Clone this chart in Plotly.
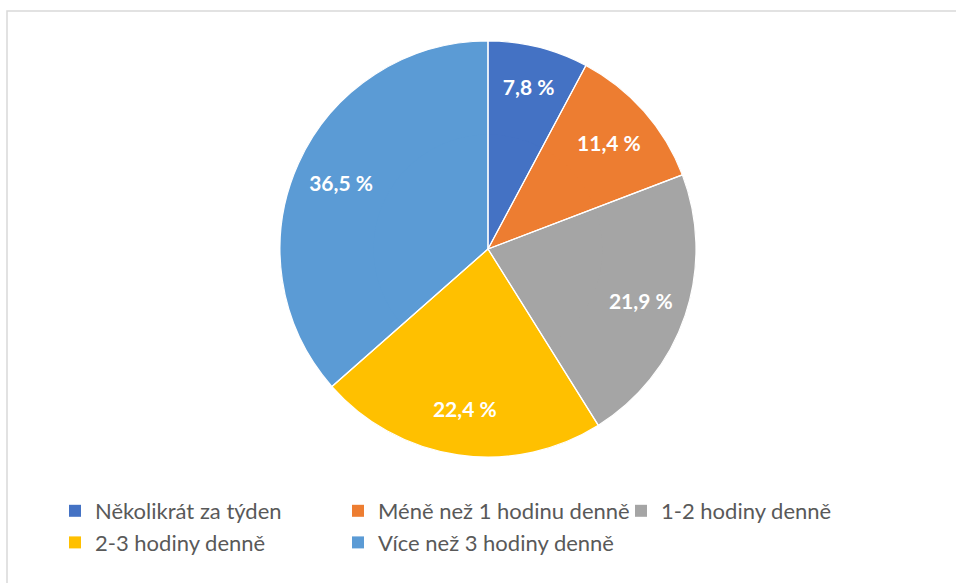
import plotly.graph_objects as go

labels = ["Několikrát za týden", "Méně než 1 hodinu denně", "1-2 hodiny denně",
          "2-3 hodiny denně", "Více než 3 hodiny denně"]
values = [7.8, 11.4, 21.9, 22.4, 36.5]
colors = ["#4472C4", "#ED7D31", "#A5A5A5", "#FFC000", "#5B9BD5"]

W, H = 956, 583
cx, cy, R = 488, 249, 208
dom = dict(x=[(cx - R) / W, (cx + R) / W], y=[1 - (cy + R) / H, 1 - (cy - R) / H])
common = dict(labels=labels, values=values, sort=False, direction="clockwise",
              rotation=0, domain=dom)

fig = go.Figure()
# full pie (colour fill, carries the legend)
fig.add_trace(go.Pie(
    **common,
    marker=dict(colors=colors, line=dict(width=0)),
    textposition="none",
    hoverinfo="label+value",
))
# ring on top that carries the data labels further out
fig.add_trace(go.Pie(
    **common,
    hole=0.55,
    marker=dict(colors=colors, line=dict(width=0)),
    texttemplate="%{value:.1f} %",
    textposition="inside",
    insidetextorientation="horizontal",
    textfont=dict(family="Lato", size=21, color="white", weight="bold"),
    showlegend=False,
    hoverinfo="skip",
))
# transparent pie for white slice separators
fig.add_trace(go.Pie(
    **common,
    marker=dict(colors=["rgba(0,0,0,0)"] * len(values), line=dict(color="white", width=1.2)),
    textposition="none",
    showlegend=False,
    hoverinfo="skip",
))

fig.update_layout(
    width=W, height=H,
    margin=dict(l=0, r=0, t=0, b=0),
    paper_bgcolor="white",
    separators=", ",
    font=dict(family="Lato", color="#595959"),
    legend=dict(
        orientation="h",
        x=55 / W, xanchor="left",
        y=1 - 490 / H, yanchor="top",
        entrywidth=238,
        font=dict(family="Lato", size=22, color="#595959"),
        traceorder="normal",
    ),
    shapes=[dict(type="rect", xref="paper", yref="paper",
                 x0=7 / W, y0=-0.1, x1=1.1, y1=1 - 11 / H,
                 line=dict(color="#D9D9D9", width=1.5), layer="below")],
)

fig.write_html("out.html", config={"displayModeBar": False},
               post_script="document.body.style.margin='0';")
